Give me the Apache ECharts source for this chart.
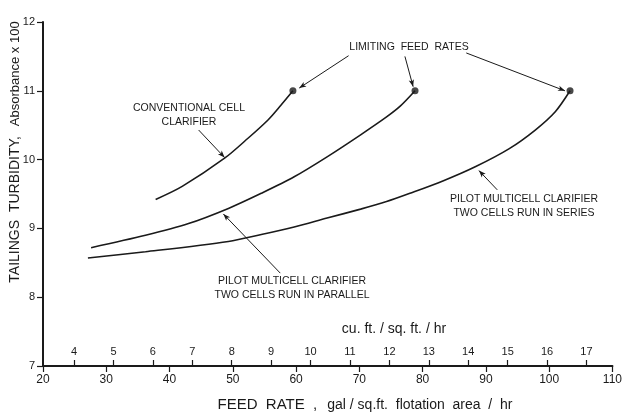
<!DOCTYPE html>
<html><head><meta charset="utf-8">
<script src="https://cdn.jsdelivr.net/npm/echarts@6/dist/echarts.min.js"></script>
<style>html,body{margin:0;padding:0;background:#fff}#chart{width:625px;height:415px}</style>
</head><body><div id="chart"></div>
<script>
// Tailings turbidity against feed rate for three clarifier arrangements.
// Feed rate in gal/sq.ft./hr, turbidity as absorbance x 100.
const conventionalCell = [[37.8,9.42],[42.0,9.61],[48.7,10.02],[52.4,10.31],[55.6,10.58],[57.6,10.79],[59.5,11.0]];
const multicellParallel = [[27.6,8.72],[36.2,8.90],[43.0,9.07],[49.3,9.29],[54.5,9.51],[59.7,9.75],[64.9,10.04],[70.2,10.36],[74.3,10.62],[76.5,10.78],[78.8,11.0]];
const multicellSeries = [[27.1,8.57],[36.2,8.66],[49.3,8.81],[54.5,8.91],[59.7,9.02],[64.9,9.15],[70.2,9.28],[74.3,9.39],[78.0,9.51],[83.2,9.69],[88.4,9.90],[93.7,10.16],[97.8,10.43],[101.0,10.70],[103.3,11.0]];

const feedRateTicks = [20,30,40,50,60,70,80,90,100,110];
const volumetricTicks = [4,5,6,7,8,9,10,11,12,13,14,15,16,17];
const turbidityTicks = [7,8,9,10,11,12];
const GAL_PER_CUFT = 6.229; // imperial gallons in one cubic foot

// Leader arrows for the annotations: [from, to] in data units
const limitingArrows = [
  [[68.3,11.51],[60.5,11.04]],
  [[77.2,11.50],[78.5,11.06]],
  [[86.9,11.55],[102.5,11.0]]
];
const curveArrows = [
  [[44.6,10.43],[48.7,10.03]],
  [[91.8,9.56],[88.9,9.84]],
  [[57.5,8.35],[48.5,9.21]]
];

const INK = '#1a1a1a';
const FONT = 'Liberation Sans';

const chart = echarts.init(document.getElementById('chart'), null, {renderer: 'canvas'});

const curveStyle = {color: INK, width: 1.6};
function curve(name, data) {
  return {
    name, type: 'line', data, smooth: 0.3,
    symbol: 'none', lineStyle: curveStyle, silent: true
  };
}
const endPoints = [conventionalCell, multicellParallel, multicellSeries].map(d => d[d.length - 1]);
const arrowLines = limitingArrows.concat(curveArrows).map(a => [{coord: a[0]}, {coord: a[1]}]);

function annot(x, y, lines, size) {
  return {
    type: 'text', x, y,
    style: {
      text: lines.join('\n'), fill: INK, font: size + 'px "' + FONT + '"',
      align: 'center', verticalAlign: 'middle', lineHeight: size + 3
    },
    silent: true
  };
}

chart.setOption({
  animation: false,
  backgroundColor: '#fff',
  grid: {left: 43, right: 7, top: 22, bottom: 49},
  xAxis: [
    {
      type: 'value', min: feedRateTicks[0], max: feedRateTicks[feedRateTicks.length - 1], interval: 10,
      axisLine: {lineStyle: {color: INK, width: 2}},
      axisTick: {length: 6, lineStyle: {color: INK, width: 1.2}},
      axisLabel: {color: INK, fontSize: 12, fontFamily: FONT, margin: 8, showMaxLabel: true},
      splitLine: {show: false}
    },
    {
      type: 'value', position: 'bottom', offset: 0,
      min: feedRateTicks[0] / GAL_PER_CUFT, max: feedRateTicks[feedRateTicks.length - 1] / GAL_PER_CUFT,
      axisLine: {show: false},
      axisTick: {inside: true, length: 6, customValues: volumetricTicks, lineStyle: {color: INK, width: 1.2}},
      axisLabel: {inside: true, customValues: volumetricTicks, color: INK, fontSize: 11, fontFamily: FONT, margin: 9},
      splitLine: {show: false}
    }
  ],
  yAxis: {
    type: 'value', min: turbidityTicks[0], max: turbidityTicks[turbidityTicks.length - 1], interval: 1,
    axisLine: {show: true, lineStyle: {color: INK, width: 2}},
    axisTick: {show: true, length: 6, lineStyle: {color: INK, width: 1.2}},
    axisLabel: {color: INK, fontSize: 11, fontFamily: FONT, margin: 8},
    splitLine: {show: false}
  },
  series: [
    Object.assign(curve('Conventional cell clarifier', conventionalCell), {
      markLine: {
        silent: true, symbol: ['none', 'arrow'], symbolSize: [4, 7],
        lineStyle: {color: INK, width: 1, type: 'solid'},
        label: {show: false}, emphasis: {disabled: true},
        data: arrowLines
      }
    }),
    curve('Pilot multicell, parallel', multicellParallel),
    curve('Pilot multicell, series', multicellSeries),
    {
      name: 'Limiting feed rates', type: 'scatter', data: endPoints,
      symbol: 'circle', symbolSize: 7, itemStyle: {color: INK}, silent: true
    }
  ],
  graphic: [
    annot(409, 47, ['LIMITING  FEED  RATES'], 10.5),
    annot(189, 115, ['CONVENTIONAL CELL', 'CLARIFIER'], 10.5),
    annot(524, 206, ['PILOT MULTICELL CLARIFIER', 'TWO CELLS RUN IN SERIES'], 10.5),
    annot(292, 288, ['PILOT MULTICELL CLARIFIER', 'TWO CELLS RUN IN PARALLEL'], 10.5),
    {
      type: 'text', x: 394, y: 329, silent: true,
      style: {text: 'cu. ft. / sq. ft. / hr', fill: INK, font: '14px "' + FONT + '"', align: 'center', verticalAlign: 'middle'}
    },
    {
      type: 'text', x: 365, y: 405, silent: true,
      style: {
        text: '{a|FEED  RATE  ,}   {b|gal / sq.ft.  flotation  area  /  hr}',
        align: 'center', verticalAlign: 'middle',
        rich: {
          a: {fontSize: 15, fontFamily: FONT, fill: INK},
          b: {fontSize: 14, fontFamily: FONT, fill: INK}
        }
      }
    },
    {
      type: 'text', x: 15, y: 152, rotation: Math.PI / 2, silent: true,
      style: {
        text: '{a|TAILINGS  TURBIDITY,}   {b|Absorbance x 100}',
        align: 'center', verticalAlign: 'middle',
        rich: {
          a: {fontSize: 14, fontFamily: FONT, fill: INK},
          b: {fontSize: 13, fontFamily: FONT, fill: INK}
        }
      }
    }
  ]
});
</script>
</body></html>
